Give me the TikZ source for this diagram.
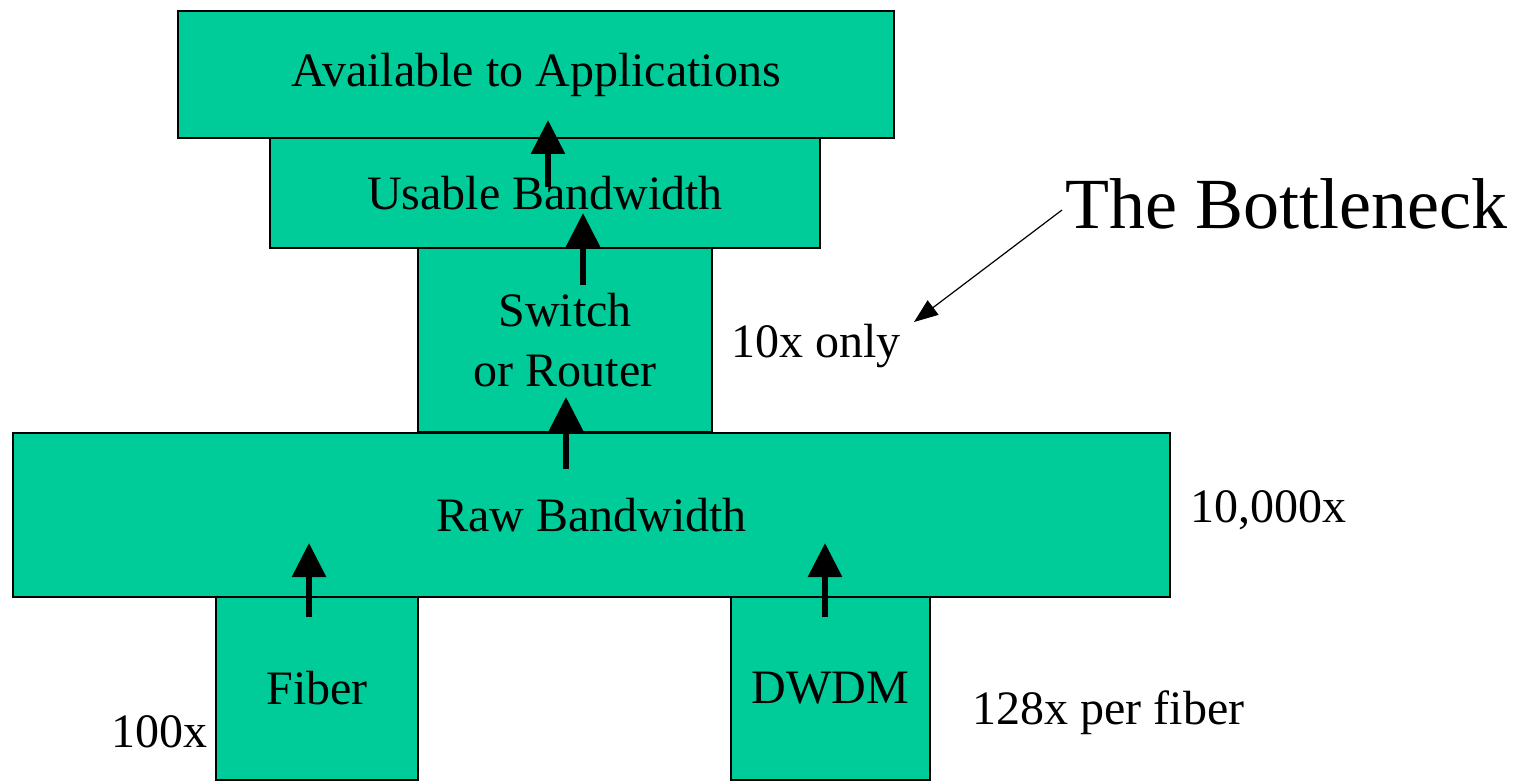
\documentclass[tikz,border=0pt]{standalone}
\usepackage{fontspec}
\setmainfont{Liberation Serif}
\usetikzlibrary{arrows.meta}
\definecolor{boxgreen}{RGB}{0,204,153}
\begin{document}
\begin{tikzpicture}[x=0.5pt,y=-0.5pt,
  box/.style={draw=black,line width=0.9pt,fill=boxgreen,rectangle,inner sep=0pt,outer sep=0pt,
    align=center,font=\fontsize{24}{30}\selectfont},
  note/.style={anchor=base west,inner sep=0pt,font=\fontsize{24}{30}\selectfont},
  flow/.style={line width=3pt,-{Triangle[width=16.5pt,length=17pt]}},
  callout/.style={line width=0.6pt,-{Triangle[width=9pt,length=12pt]}}]
\useasboundingbox (0,0) rectangle (1516,781);
\node[box,minimum width=358pt,minimum height=63.5pt] (avail) at (536,74.5) {Available to Applications};
\node[box,minimum width=275pt,minimum height=55pt] (usable) at (545,193) {Usable Bandwidth};
\node[box,minimum width=147pt,minimum height=92pt] (switch) at (565,340) {Switch\\or Router};
\node[box,minimum width=578.5pt,minimum height=82pt] (raw) at (591.5,515) {Raw Bandwidth};
\node[box,minimum width=101pt,minimum height=91.5pt] (fiber) at (317,688.5) {Fiber};
\node[box,minimum width=99.5pt,minimum height=91.5pt] (dwdm) at (830.5,688.5) {DWDM};
\node[note] (n10) at (731,357) {10x only};
\node[note] (n10000) at (1190,522) {10,000x};
\node[note] (n128) at (972,724) {128x per fiber};
\node[note] (n100) at (111,747) {100x};
\node[note,font=\fontsize{36}{42}\selectfont] (bottle) at (1065,228) {The Bottleneck};
\coordinate (a1t) at (548,187); \coordinate (a1h) at (548,120);
\coordinate (a2t) at (583,285); \coordinate (a2h) at (583,213);
\coordinate (a3t) at (566,469); \coordinate (a3h) at (566,397);
\coordinate (aft) at (309,617); \coordinate (afh) at (309,543);
\coordinate (adt) at (825,617); \coordinate (adh) at (825,543);
\coordinate (bt) at (1062,210); \coordinate (bh) at (914,322);
\draw[flow] (a1t) -- (a1h);
\draw[flow] (a2t) -- (a2h);
\draw[flow] (a3t) -- (a3h);
\draw[flow] (aft) -- (afh);
\draw[flow] (adt) -- (adh);
\draw[callout] (bt) -- (bh);
\end{tikzpicture}
\end{document}
